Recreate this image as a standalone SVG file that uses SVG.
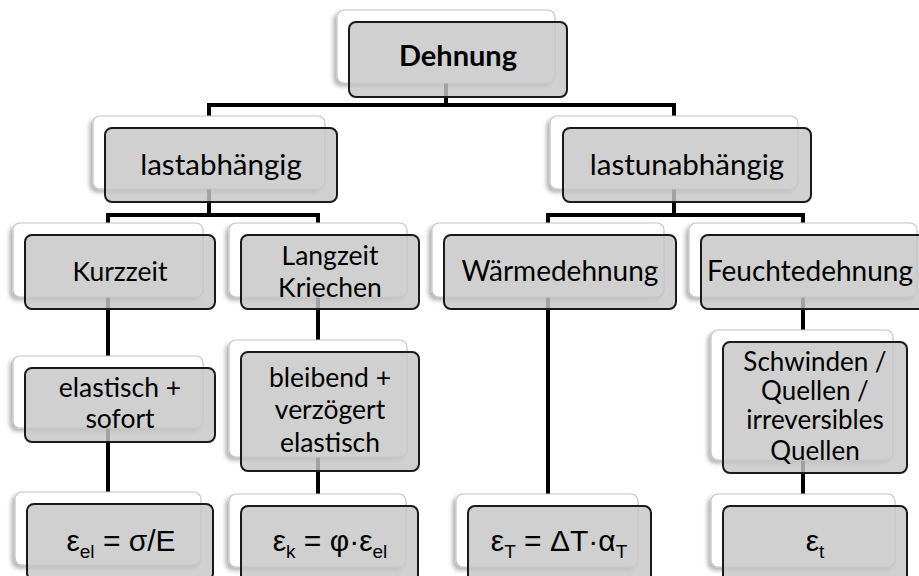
<svg xmlns="http://www.w3.org/2000/svg" width="919" height="576" viewBox="0 0 919 576">
<defs>
<filter id="sh" x="-10%" y="-10%" width="120%" height="130%">
<feDropShadow dx="-3" dy="3" stdDeviation="2" flood-color="#000" flood-opacity="0.3"/>
</filter>
</defs>
<style>
.back{fill:#fff;stroke:#c4c4c4;stroke-width:1.2;filter:url(#sh)}
.front{fill:#c6c6c6;fill-opacity:0.82;stroke:#1a1a1a;stroke-width:2}
.t{font-family:Lato,"Open Sans",sans-serif;font-size:26px;fill:#000;text-anchor:middle}
.l1{font-size:29.5px}
.l2{font-size:28px}
.l3{font-size:26.5px}
.b{font-weight:bold;font-size:29px}
.f{font-family:"Liberation Sans",Arial,sans-serif;font-size:30px;fill:#000;text-anchor:middle}
.s{font-size:19px}
.conn line{stroke:#000;stroke-width:4;stroke-linecap:square}
</style>
<rect width="919" height="576" fill="#fff"/>
<g class="conn" id="connectors">
<line x1="446" y1="80" x2="446" y2="105"/>
<line x1="209" y1="105" x2="674" y2="105"/>
<line x1="209" y1="105" x2="209" y2="118"/>
<line x1="674" y1="105" x2="674" y2="118"/>
<line x1="209" y1="185" x2="209" y2="215"/>
<line x1="108" y1="215" x2="318" y2="215"/>
<line x1="108" y1="215" x2="108" y2="225"/>
<line x1="318" y1="215" x2="318" y2="225"/>
<line x1="674" y1="185" x2="674" y2="215"/>
<line x1="548" y1="215" x2="803" y2="215"/>
<line x1="548" y1="215" x2="548" y2="225"/>
<line x1="803" y1="215" x2="803" y2="225"/>
<line x1="108" y1="295" x2="108" y2="358"/>
<line x1="108" y1="428" x2="108" y2="494"/>
<line x1="318" y1="295" x2="318" y2="342"/>
<line x1="318" y1="455" x2="318" y2="496"/>
<line x1="548" y1="295" x2="548" y2="496"/>
<line x1="803" y1="295" x2="803" y2="332"/>
<line x1="803" y1="458" x2="803" y2="496"/>
</g>
<g id="n-dehnung">
<rect class="back" x="337" y="10" width="218" height="73" rx="7"/>
<rect class="front" x="349" y="22" width="218" height="75" rx="7"/>
<text class="t b" x="458" y="66">Dehnung</text>
</g>
<g id="n-lastabhaengig">
<rect class="back" x="93" y="116" width="232" height="73" rx="7"/>
<rect class="front" x="105" y="128" width="232" height="74" rx="7"/>
<text class="t l1" x="221" y="175">lastabhängig</text>
</g>
<g id="n-lastunabhaengig">
<rect class="back" x="550" y="116" width="248" height="73" rx="7"/>
<rect class="front" x="563" y="128" width="248" height="74" rx="7"/>
<text class="t l1" x="687" y="175">lastunabhängig</text>
</g>
<g id="n-kurzzeit">
<rect class="back" x="13" y="223" width="190" height="74" rx="7"/>
<rect class="front" x="25" y="235" width="190" height="74" rx="7"/>
<text class="t l3" x="120" y="281">Kurzzeit</text>
</g>
<g id="n-langzeit">
<rect class="back" x="229" y="223" width="178" height="74" rx="7"/>
<rect class="front" x="241" y="235" width="178" height="74" rx="7"/>
<text class="t l3" x="330" y="265">Langzeit</text>
<text class="t l3" x="330" y="297">Kriechen</text>
</g>
<g id="n-waerme">
<rect class="back" x="432" y="223" width="232" height="74" rx="7"/>
<rect class="front" x="444" y="235" width="232" height="74" rx="7"/>
<text class="t l2" x="560" y="281">Wärmedehnung</text>
</g>
<g id="n-feuchte">
<rect class="back" x="689" y="223" width="228" height="74" rx="7"/>
<rect class="front" x="701" y="235" width="228" height="74" rx="7"/>
<text class="t l2" x="810" y="281">Feuchtedehnung</text>
</g>
<g id="n-elastisch">
<rect class="back" x="13" y="356" width="190" height="72" rx="7"/>
<rect class="front" x="25" y="368" width="190" height="74" rx="7"/>
<text class="t l3" x="120" y="397">elastisch +</text>
<text class="t l3" x="120" y="428">sofort</text>
</g>
<g id="n-bleibend">
<rect class="back" x="229" y="340" width="178" height="117" rx="7"/>
<rect class="front" x="241" y="352" width="178" height="119" rx="7"/>
<text class="t l3" x="330" y="387">bleibend +</text>
<text class="t l3" x="330" y="419">verzögert</text>
<text class="t l3" x="330" y="452">elastisch</text>
</g>
<g id="n-schwinden">
<rect class="back" x="711" y="330" width="182" height="130" rx="7"/>
<rect class="front" x="723" y="342" width="184" height="131" rx="7"/>
<text class="t" x="815" y="371">Schwinden /</text>
<text class="t" x="815" y="400">Quellen /</text>
<text class="t" x="815" y="429">irreversibles</text>
<text class="t" x="815" y="460">Quellen</text>
</g>
<g id="n-eps-el">
<rect class="back" x="15" y="492" width="186" height="73" rx="7"/>
<rect class="front" x="27" y="504" width="186" height="76" rx="7"/>
<text class="f" x="121" y="551">ε<tspan class="s" dy="7">el</tspan><tspan dy="-7"> = σ/E</tspan></text>
</g>
<g id="n-eps-k">
<rect class="back" x="229" y="494" width="177" height="73" rx="7"/>
<rect class="front" x="241" y="506" width="177" height="76" rx="7"/>
<text class="f" x="330" y="551">ε<tspan class="s" dy="7">k</tspan><tspan dy="-7"> = φ·ε</tspan><tspan class="s" dy="7">el</tspan></text>
</g>
<g id="n-eps-T">
<rect class="back" x="456" y="494" width="182" height="73" rx="7"/>
<rect class="front" x="468" y="506" width="183" height="76" rx="7"/>
<text class="f" x="559" y="551">ε<tspan class="s" dy="7">T</tspan><tspan dy="-7"> = ΔT·α</tspan><tspan class="s" dy="7">T</tspan></text>
</g>
<g id="n-eps-t">
<rect class="back" x="711" y="494" width="184" height="73" rx="7"/>
<rect class="front" x="723" y="506" width="184" height="76" rx="7"/>
<text class="f" x="815" y="551">ε<tspan class="s" dy="7">t</tspan></text>
</g>
</svg>
